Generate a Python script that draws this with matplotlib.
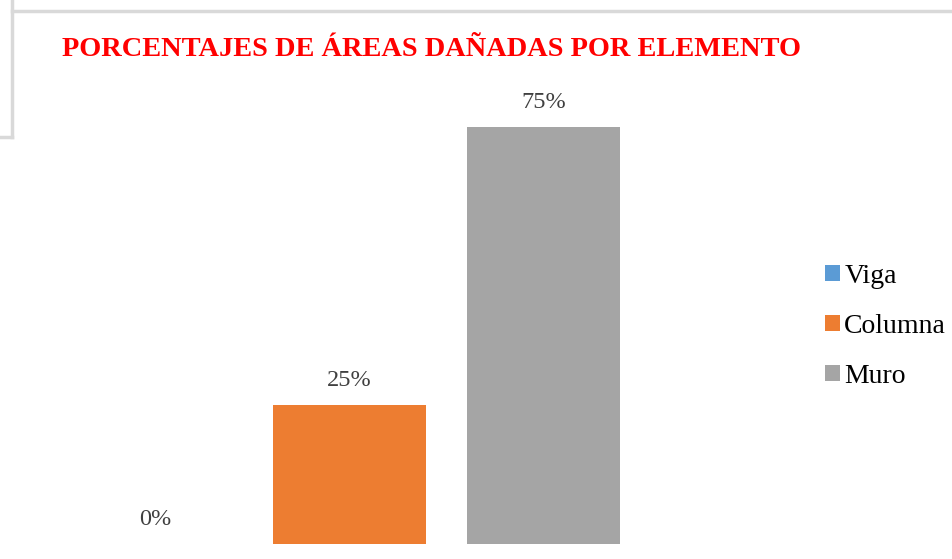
import matplotlib
matplotlib.use("Agg")
import matplotlib.pyplot as plt
from matplotlib.lines import Line2D
from matplotlib.patches import Patch

categories = ["Viga", "Columna", "Muro"]
values = [0, 25, 75]
labels = ["0%", "25%", "75%"]
colors = ["#5B9BD5", "#ED7D31", "#A5A5A5"]
title = "PORCENTAJES DE ÁREAS DAÑADAS POR ELEMENTO"

W, H = 953, 559
fig = plt.figure(figsize=(W / 100, H / 100), dpi=100)
plt.rcParams['font.family'] = ['Liberation Serif', 'DejaVu Serif']

# axes in pixel coordinates
left, right = 40, 659
bottom_px, top_px = 544, 99
ax = fig.add_axes([left / W, (H - bottom_px) / H, (right - left) / W, (bottom_px - top_px) / H])
ax.set_xlim(-0.595, 2.595)
ax.set_ylim(0, 80)
x = list(range(len(categories)))
bars = ax.bar(x, values, width=0.79, color=colors, zorder=2)
for xi, v, lab in zip(x, values, labels):
    ax.text(xi, v + 2.5, lab, ha="center", va="bottom", fontsize=17.5,
            color="#404040", clip_on=False)
ax.axis("off")

fig.text(62 / W, 1 - 49 / H, title, color="#FF0000", fontsize=20.4,
         fontweight="bold", ha="left", va="center")

handles = [Patch(facecolor=c, edgecolor="none") for c in colors]
leg = fig.legend(handles, categories, loc="upper left",
                 bbox_to_anchor=(811 / W, 1 - 250 / H), frameon=False,
                 fontsize=20, handlelength=0.55, handleheight=0.55,
                 handletextpad=0.15, labelspacing=0.9, borderpad=0)

# screenshot frame lines
grey = "#D9D9D9"
fig.add_artist(Line2D([12 / W, 1], [1 - 11 / H, 1 - 11 / H], color=grey, lw=2.5))
fig.add_artist(Line2D([12 / W, 12 / W], [1, 1 - 137 / H], color=grey, lw=2.5))
fig.add_artist(Line2D([0, 12 / W], [1 - 137 / H, 1 - 137 / H], color=grey, lw=2.5))

fig.savefig("out.png", dpi=100)
